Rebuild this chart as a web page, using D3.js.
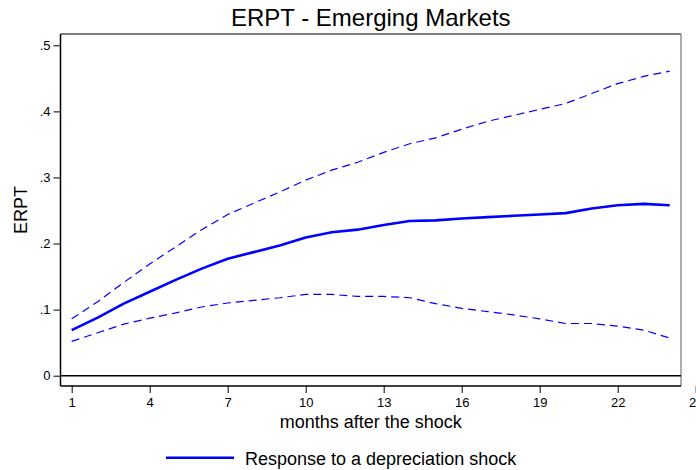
<!DOCTYPE html>
<html>
<head>
<meta charset="utf-8">
<script src="https://cdn.jsdelivr.net/npm/d3@7/dist/d3.min.js"></script>
<style>
  html, body { margin: 0; padding: 0; background: #fff; }
  svg { display: block; font-family: "Liberation Sans", Arial, sans-serif; }
</style>
</head>
<body>
<svg id="chart" width="696" height="470"></svg>
<script>
const months = d3.range(1, 25);
const response = [0.069, 0.088, 0.109, 0.127, 0.145, 0.162, 0.177, 0.187, 0.197, 0.209, 0.217, 0.221, 0.228, 0.234, 0.235, 0.238, 0.240, 0.242, 0.244, 0.246, 0.253, 0.258, 0.260, 0.258];
const upper = [0.086, 0.112, 0.141, 0.169, 0.195, 0.221, 0.244, 0.261, 0.278, 0.296, 0.311, 0.323, 0.338, 0.351, 0.360, 0.373, 0.385, 0.394, 0.403, 0.412, 0.427, 0.442, 0.453, 0.461];
const lower = [0.052, 0.065, 0.078, 0.087, 0.095, 0.104, 0.110, 0.114, 0.118, 0.123, 0.123, 0.120, 0.120, 0.118, 0.109, 0.102, 0.097, 0.092, 0.086, 0.079, 0.079, 0.075, 0.069, 0.057];
const xTicks = [1, 4, 7, 10, 13, 16, 19, 22, 25];
const yTicks = [0, 0.1, 0.2, 0.3, 0.4, 0.5];
const yTickLabels = ["0", ".1", ".2", ".3", ".4", ".5"];
const titleText = "ERPT - Emerging Markets";
const xLabel = "months after the shock";
const yLabel = "ERPT";
const legendLabel = "Response to a depreciation shock";

const svg = d3.select("#chart");
const L = 60.5, R = 681, T = 34, B = 386;

const x = d3.scaleLinear().domain([1, 25]).range([71.7, 695.7]);
const y = d3.scaleLinear().domain([0, 0.5]).range([375.7, 45.3]);

// frame
svg.append("line").attr("x1", L).attr("x2", R).attr("y1", T).attr("y2", T).attr("stroke", "#000").attr("stroke-width", 1);
svg.append("line").attr("x1", R).attr("x2", R).attr("y1", T).attr("y2", B).attr("stroke", "#777").attr("stroke-width", 1.2);

// zero line
svg.append("line").attr("x1", L).attr("x2", R).attr("y1", y(0)).attr("y2", y(0)).attr("stroke", "#000").attr("stroke-width", 1.5);

// y axis
const yAxis = d3.axisLeft(y).tickValues(yTicks).tickSize(7).tickPadding(3)
  .tickFormat((d, i) => yTickLabels[i]);
const gy = svg.append("g").attr("transform", `translate(${L},0)`).call(yAxis);
gy.select(".domain").attr("d", `M0,${T}V${B}`).attr("stroke", "#000").attr("stroke-width", 1.5);
gy.selectAll(".tick line").attr("stroke", "#000").attr("stroke-width", 1);
gy.selectAll(".tick text").attr("font-size", 13).attr("fill", "#000").attr("font-family", "Liberation Sans, Arial, sans-serif");

// x axis
const xAxis = d3.axisBottom(x).tickValues(xTicks).tickSize(7).tickPadding(5).tickFormat(d3.format("d"));
const gx = svg.append("g").attr("transform", `translate(0,${B})`).call(xAxis);
gx.select(".domain").attr("d", `M${L},0H${R}`).attr("stroke", "#000").attr("stroke-width", 1.5);
gx.selectAll(".tick line").attr("stroke", "#000").attr("stroke-width", 1);
gx.selectAll(".tick text").attr("font-size", 13).attr("fill", "#000").attr("font-family", "Liberation Sans, Arial, sans-serif");

// lines
const line = d3.line().x((d, i) => x(months[i])).y(d => y(d));
svg.append("path").datum(upper).attr("d", line).attr("fill", "none")
  .attr("stroke", "#0000ff").attr("stroke-width", 1.2).attr("stroke-dasharray", "8,5");
svg.append("path").datum(lower).attr("d", line).attr("fill", "none")
  .attr("stroke", "#0000ff").attr("stroke-width", 1.2).attr("stroke-dasharray", "8,5");
svg.append("path").datum(response).attr("d", line).attr("fill", "none")
  .attr("stroke", "#0000ff").attr("stroke-width", 2.6).attr("stroke-linejoin", "round");

// title
svg.append("text").attr("x", (L + R) / 2).attr("y", 26).attr("text-anchor", "middle")
  .attr("font-size", 24).attr("fill", "#000").text(titleText);
// x label
svg.append("text").attr("x", (L + R) / 2).attr("y", 428).attr("text-anchor", "middle")
  .attr("font-size", 18).attr("fill", "#000").text(xLabel);
// y label
svg.append("text").attr("transform", `translate(27,${(T + B) / 2}) rotate(-90)`).attr("text-anchor", "middle")
  .attr("font-size", 18).attr("fill", "#000").text(yLabel);

// legend
svg.append("line").attr("x1", 166).attr("x2", 234).attr("y1", 457.7).attr("y2", 457.7)
  .attr("stroke", "#0000ff").attr("stroke-width", 2.6);
svg.append("text").attr("x", 245).attr("y", 465).attr("font-size", 18).attr("fill", "#000").text(legendLabel);
</script>
</body>
</html>
